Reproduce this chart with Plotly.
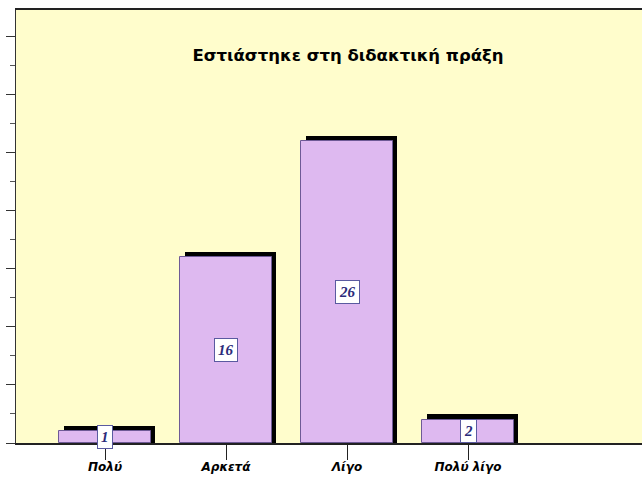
import plotly.graph_objects as go

categories = ["Πολύ", "Αρκετά", "Λίγο", "Πολύ λίγο"]
values = [1, 16, 26, 2]
positions = [0, 1, 2, 3]
title_text = "Εστιάστηκε στη διδακτική πράξη"

shadow_dx = 0.037
shadow_dy = 0.47

fig = go.Figure()
fig.add_trace(go.Bar(
    x=[p + shadow_dx for p in positions],
    y=[v + shadow_dy for v in values],
    width=0.76,
    marker=dict(color="#000000", line=dict(width=0)),
    hoverinfo="skip",
    showlegend=False,
))
fig.add_trace(go.Bar(
    x=positions,
    y=values,
    width=0.76,
    marker=dict(color="#DEB9F0", line=dict(color="#6E5A96", width=1)),
    showlegend=False,
))

for p, v in zip(positions, values):
    fig.add_annotation(
        x=p, y=v / 2, xref="x", yref="y", text=str(v), showarrow=False,
        font=dict(family="Liberation Serif", size=15, color="#2B2B7A", style="italic", weight="bold"),
        bgcolor="#FFFFFF", bordercolor="#5A5AA0", borderwidth=1, borderpad=3,
    )

fig.update_layout(
    width=642, height=488,
    margin=dict(l=16, r=0, t=10, b=45),
    paper_bgcolor="#FFFFFF",
    plot_bgcolor="#FFFDCC",
    barmode="overlay",
    bargap=0,
    title=dict(
        text=title_text, x=348 / 642, xanchor="center", y=1 - 55 / 488, yanchor="middle",
        font=dict(family="DejaVu Sans", size=16.5, color="#000000", weight="bold"),
    ),
    xaxis=dict(
        range=[-89 / 121, 537 / 121],
        tickvals=positions, ticktext=categories,
        ticks="outside", ticklen=15, tickcolor="#222222", tickwidth=1,
        ticklabelstandoff=-3,
        tickfont=dict(family="DejaVu Sans", size=12, color="#000000", style="italic", weight="bold"),
        showline=True, linecolor="#222222", linewidth=1.5, mirror=True,
        showgrid=False, zeroline=False,
    ),
    yaxis=dict(
        range=[0, 37.3],
        tickvals=[0, 5, 10, 15, 20, 25, 30, 35],
        ticks="outside", ticklen=9, tickcolor="#333333", tickwidth=1,
        showticklabels=False,
        minor=dict(dtick=2.5, ticks="outside", ticklen=5, tickcolor="#555555"),
        showline=True, linecolor="#333333", linewidth=1,
        showgrid=False, zeroline=False,
    ),
)

fig.write_html(
    "out.html",
    config={"displayModeBar": False},
    post_script="document.body.style.margin='0';document.body.style.overflow='hidden';",
)
